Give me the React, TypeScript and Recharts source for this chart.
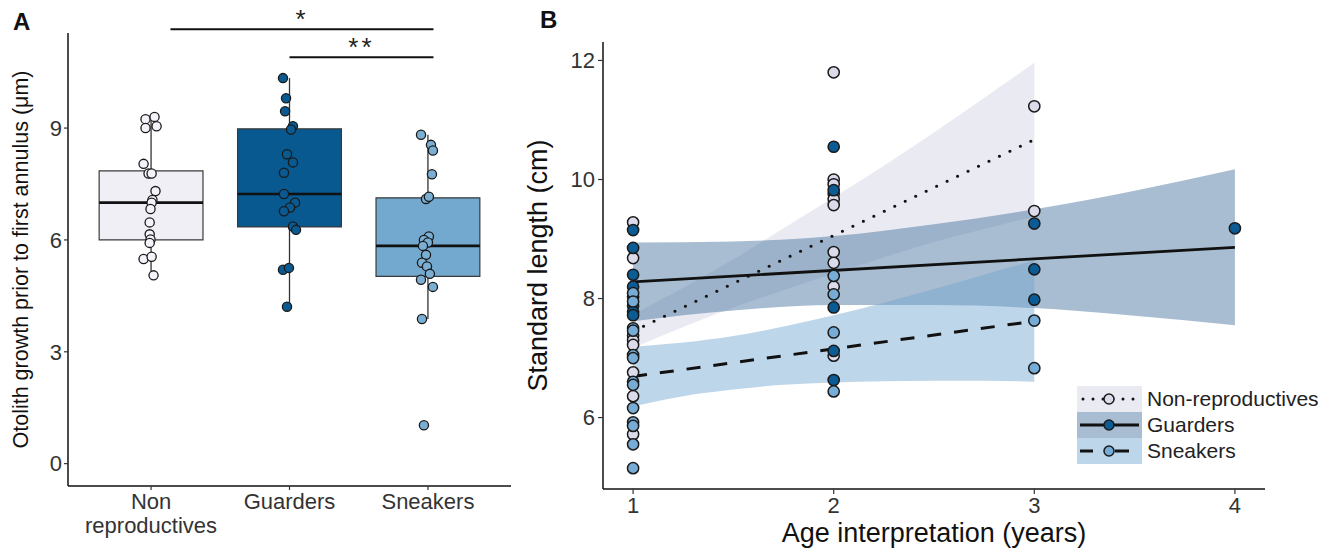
import React from 'react';
import {
  ComposedChart,
  Scatter,
  XAxis,
  YAxis,
  ReferenceArea,
  ReferenceLine,
  Line,
  Area,
  Label,
} from 'recharts';

const FONT = '"Liberation Sans", Arial, Helvetica, sans-serif';

// ---------------- Panel A data ----------------
const groupsA = ['Non\nreproductives', 'Guarders', 'Sneakers'];
const boxMin = [5.05, 4.21, 3.88];
const boxQ1 = [6.0, 6.35, 5.02];
const boxMed = [7.0, 7.23, 5.84];
const boxQ3 = [7.85, 8.98, 7.13];
const boxMax = [9.3, 10.34, 8.82];

const nonGrowth = [9.24, 9.3, 9.0, 9.05, 8.04, 7.78, 7.78, 7.31, 7.07, 7.0, 6.83, 6.47, 6.15, 6.01, 5.92, 5.49, 5.55, 5.05];
const nonJitter = [-0.04, 0.025, -0.04, 0.04, -0.054, -0.018, 0.004, 0.032, 0.01, 0.004, -0.004, -0.01, -0.01, -0.004, -0.01, -0.054, 0.004, 0.018];
const guardGrowth = [10.34, 9.8, 9.45, 9.05, 8.96, 8.3, 8.08, 7.8, 7.23, 7.0, 6.87, 6.77, 6.36, 6.27, 5.2, 5.25, 4.21];
const guardJitter = [-0.047, -0.025, -0.032, 0.025, 0.011, -0.018, 0.025, -0.04, -0.04, 0.04, 0.004, -0.04, 0.025, 0.047, -0.047, -0.004, -0.018];
const sneakGrowth = [8.82, 8.55, 8.4, 7.76, 7.1, 7.16, 6.09, 6.0, 5.93, 5.84, 5.6, 5.39, 5.29, 5.09, 4.93, 4.74, 3.88, 1.03];
const sneakJitter = [-0.05, 0.022, 0.036, 0.029, -0.014, 0.007, 0.007, -0.029, 0.0, -0.036, -0.014, -0.043, -0.007, 0.014, -0.05, 0.036, -0.043, -0.029];

const sigStarts = [1.14, 2.0];
const sigEnds = [3.04, 3.04];
const sigHeights = [11.65, 10.9];
const sigLabels = ['*', '**'];

// ---------------- Panel B data ----------------
const ageTicks = [1, 2, 3, 4];
const lengthTicks = [6, 8, 10, 12];

const nonAge = [1, 1, 1, 1, 1, 1, 1, 1, 2, 2, 2, 2, 2, 2, 2, 2, 2, 2, 3, 3];
const nonLen = [9.28, 8.68, 7.38, 7.3, 7.22, 6.76, 6.36, 5.72, 11.8, 10.0, 9.92, 9.76, 9.67, 9.57, 8.78, 8.6, 8.2, 7.04, 11.23, 9.47];
const guardAge = [1, 1, 1, 1, 1, 1, 1, 1, 2, 2, 2, 2, 2, 3, 3, 3, 4];
const guardLen = [9.15, 8.85, 8.4, 8.2, 8.03, 7.88, 7.78, 7.72, 10.55, 9.82, 7.85, 7.12, 6.63, 9.26, 8.49, 7.98, 9.18];
const sneakAge = [1, 1, 1, 1, 1, 1, 1, 1, 1, 1, 1, 1, 1, 2, 2, 2, 2, 3, 3];
const sneakLen = [8.09, 7.95, 7.5, 7.46, 7.05, 7.0, 6.6, 6.55, 6.16, 5.92, 5.86, 5.55, 5.15, 8.38, 8.07, 7.43, 6.44, 7.63, 6.83];

const nonFitX = [1, 3];
const nonFitY = [7.45, 10.67];
const guardFitX = [1, 4];
const guardFitY = [8.28, 8.86];
const sneakFitX = [1, 3];
const sneakFitY = [6.69, 7.62];

const nonBandX = [1, 1.25, 1.5, 1.75, 2, 2.25, 2.5, 2.75, 3];
const nonBandLo = [7.17, 7.52, 7.85, 8.14, 8.42, 8.69, 8.95, 9.17, 9.38];
const nonBandHi = [7.73, 8.18, 8.66, 9.18, 9.7, 10.23, 10.79, 11.37, 11.96];
const guardBandX = [1, 1.5, 2, 2.5, 3, 3.5, 4];
const guardBandLo = [7.62, 7.8, 7.89, 7.89, 7.84, 7.71, 7.55];
const guardBandHi = [8.94, 8.96, 9.05, 9.25, 9.5, 9.81, 10.17];
const sneakBandX = [1, 1.25, 1.5, 1.75, 2, 2.25, 2.5, 2.75, 3];
const sneakBandLo = [6.19, 6.36, 6.47, 6.55, 6.59, 6.61, 6.62, 6.62, 6.6];
const sneakBandHi = [7.19, 7.26, 7.37, 7.53, 7.72, 7.93, 8.16, 8.4, 8.64];

const legendNames = ['Non-reproductives', 'Guarders', 'Sneakers'];

// ---------------- styles ----------------
const BOX_HALF = 0.375;
const boxFill = ['#f1eff6', '#07598f', '#74a9cf'];
const ptFillA = ['#f5f3f9', '#0a5a91', '#7aaed3'];
const ptFillB = ['#dcdbeb', '#0b5b95', '#76acd6'];
const bandFill = ['#cfd0e3', '#4a76a0', '#6fa3cf'];
const bandOpacity = [0.45, 0.48, 0.45];
const tickStyle = { fontSize: 22, fill: '#333', fontFamily: FONT };
const axisLineStyle = { stroke: '#111', strokeWidth: 1.5 };
const tickLineStyle = { stroke: '#333', strokeWidth: 1.2 };

const toPoints = (xs: number[], ys: number[]) => xs.map((x, i) => ({ x, y: ys[i] }));
const toJittered = (center: number, jit: number[], ys: number[]) =>
  ys.map((y, i) => ({ x: center + jit[i], y }));
const toBand = (xs: number[], lo: number[], hi: number[]) =>
  xs.map((x, i) => ({ x, range: [lo[i], hi[i]] }));

const dotShape = (fill: string, r: number, sw: number) => (props: any) => (
  <circle cx={props.cx} cy={props.cy} r={r} fill={fill} stroke="#1a1a1a" strokeWidth={sw} />
);

const CatTick = (props: any) => {
  const { x, y, payload } = props;
  const label = groupsA[Math.round(payload.value) - 1] || '';
  const lines = label.split('\n');
  return (
    <text x={x} y={y} textAnchor="middle" fill="#333" fontSize={22} fontFamily={FONT}>
      {lines.map((l, i) => (
        <tspan key={i} x={x} dy={i === 0 ? '0.71em' : '1.1em'}>
          {l}
        </tspan>
      ))}
    </text>
  );
};

const rotTitle = (text: string, fromLeft: number, fontSize: number) => (props: any) => {
  const vb = props.viewBox || {};
  const cx = (vb.x || 0) + fromLeft;
  const cy = (vb.y || 0) + (vb.height || 0) / 2;
  return (
    <text
      x={cx}
      y={cy}
      dy="0.36em"
      transform={`rotate(-90 ${cx} ${cy})`}
      textAnchor="middle"
      fontSize={fontSize}
      fontFamily={FONT}
      fill="#111"
    >
      {text}
    </text>
  );
};

const bottomTitle = (text: string, below: number, fontSize: number) => (props: any) => {
  const vb = props.viewBox || {};
  const cx = (vb.x || 0) + (vb.width || 0) / 2;
  const cy = (vb.y || 0) + below;
  return (
    <text x={cx} y={cy} textAnchor="middle" fontSize={fontSize} fontFamily={FONT} fill="#111">
      {text}
    </text>
  );
};

const PanelA = () => (
  <ComposedChart width={530} height={550} margin={{ top: 33, right: 19, left: 0, bottom: 0 }}>
    <XAxis
      type="number"
      dataKey="x"
      domain={[0.4, 3.6]}
      ticks={[1, 2, 3]}
      interval={0}
      tick={CatTick}
      tickSize={4}
      tickMargin={3}
      height={64}
      axisLine={axisLineStyle}
      tickLine={tickLineStyle}
    />
    <YAxis
      type="number"
      dataKey="y"
      domain={[-0.6, 11.55]}
      ticks={[0, 3, 6, 9]}
      interval={0}
      width={68}
      tickSize={4}
      tickMargin={2}
      tick={tickStyle}
      axisLine={axisLineStyle}
      tickLine={tickLineStyle}
    >
      <Label content={rotTitle('Otolith growth prior to first annulus (\u03bcm)', 20.5, 21.5)} />
    </YAxis>
    {groupsA.map((g, i) => (
      <ReferenceLine
        key={'wu' + i}
        segment={[{ x: i + 1, y: boxQ3[i] }, { x: i + 1, y: boxMax[i] }]}
        stroke="#333"
        strokeWidth={1.3}
      />
    ))}
    {groupsA.map((g, i) => (
      <ReferenceLine
        key={'wl' + i}
        segment={[{ x: i + 1, y: boxMin[i] }, { x: i + 1, y: boxQ1[i] }]}
        stroke="#333"
        strokeWidth={1.3}
      />
    ))}
    {groupsA.map((g, i) => (
      <ReferenceArea
        key={'box' + i}
        x1={i + 1 - BOX_HALF}
        x2={i + 1 + BOX_HALF}
        y1={boxQ1[i]}
        y2={boxQ3[i]}
        fill={boxFill[i]}
        fillOpacity={1}
        stroke="#3a3a3a"
        strokeWidth={1.2}
      />
    ))}
    {groupsA.map((g, i) => (
      <ReferenceLine
        key={'med' + i}
        segment={[{ x: i + 1 - BOX_HALF, y: boxMed[i] }, { x: i + 1 + BOX_HALF, y: boxMed[i] }]}
        stroke="#111"
        strokeWidth={2.6}
      />
    ))}
    {sigLabels.map((s, i) => (
      <ReferenceLine
        key={'sig' + i}
        segment={[{ x: sigStarts[i], y: sigHeights[i] }, { x: sigEnds[i], y: sigHeights[i] }]}
        stroke="#111"
        strokeWidth={2}
        ifOverflow="visible"
        label={{ value: s, position: 'top', offset: 1, fontSize: 26, fill: '#222', fontFamily: FONT, letterSpacing: 3 }}
      />
    ))}
    <Scatter data={toJittered(1, nonJitter, nonGrowth)} shape={dotShape(ptFillA[0], 4.6, 1.3)} isAnimationActive={false} />
    <Scatter data={toJittered(2, guardJitter, guardGrowth)} shape={dotShape(ptFillA[1], 4.6, 1.3)} isAnimationActive={false} />
    <Scatter data={toJittered(3, sneakJitter, sneakGrowth)} shape={dotShape(ptFillA[2], 4.6, 1.3)} isAnimationActive={false} />
  </ComposedChart>
);

const PanelB = () => (
  <ComposedChart width={812} height={550} margin={{ top: 42, right: 67, left: 0, bottom: 0 }}>
    <XAxis
      type="number"
      dataKey="x"
      domain={[0.85, 4.15]}
      ticks={ageTicks}
      interval={0}
      tickSize={5}
      tickMargin={3}
      height={61}
      tick={tickStyle}
      axisLine={axisLineStyle}
      tickLine={tickLineStyle}
    >
      <Label content={bottomTitle('Age interpretation (years)', 53, 27)} />
    </XAxis>
    <YAxis
      type="number"
      dataKey="y"
      domain={[4.8, 12.31]}
      ticks={lengthTicks}
      interval={0}
      width={83}
      tickSize={5}
      tickMargin={3}
      tick={tickStyle}
      axisLine={axisLineStyle}
      tickLine={tickLineStyle}
    >
      <Label content={rotTitle('Standard length (cm)', 17.6, 27)} />
    </YAxis>
    <Area
      data={toBand(nonBandX, nonBandLo, nonBandHi)}
      dataKey="range"
      type="monotone"
      fill={bandFill[0]}
      fillOpacity={bandOpacity[0]}
      stroke="none"
      isAnimationActive={false}
    />
    <Area
      data={toBand(guardBandX, guardBandLo, guardBandHi)}
      dataKey="range"
      type="monotone"
      fill={bandFill[1]}
      fillOpacity={bandOpacity[1]}
      stroke="none"
      isAnimationActive={false}
    />
    <Area
      data={toBand(sneakBandX, sneakBandLo, sneakBandHi)}
      dataKey="range"
      type="monotone"
      fill={bandFill[2]}
      fillOpacity={bandOpacity[2]}
      stroke="none"
      isAnimationActive={false}
    />
    <Line
      data={toPoints(nonFitX, nonFitY)}
      dataKey="y"
      stroke="#111"
      strokeWidth={3.2}
      strokeDasharray="0 11.6"
      strokeLinecap="round"
      dot={false}
      activeDot={false}
      isAnimationActive={false}
    />
    <Line
      data={toPoints(guardFitX, guardFitY)}
      dataKey="y"
      stroke="#111"
      strokeWidth={2.8}
      dot={false}
      activeDot={false}
      isAnimationActive={false}
    />
    <Line
      data={toPoints(sneakFitX, sneakFitY)}
      dataKey="y"
      stroke="#111"
      strokeWidth={3}
      strokeDasharray="14 13"
      dot={false}
      activeDot={false}
      isAnimationActive={false}
    />
    <Scatter data={toPoints(nonAge, nonLen)} shape={dotShape(ptFillB[0], 5.6, 1.5)} isAnimationActive={false} />
    <Scatter data={toPoints(guardAge, guardLen)} shape={dotShape(ptFillB[1], 5.6, 1.5)} isAnimationActive={false} />
    <Scatter data={toPoints(sneakAge, sneakLen)} shape={dotShape(ptFillB[2], 5.6, 1.5)} isAnimationActive={false} />
  </ComposedChart>
);

const LegendKey = ({ idx }: { idx: number }) => {
  const y = 13;
  return (
    <svg width={65} height={26} style={{ display: 'block' }}>
      <rect x={0} y={0} width={65} height={26} fill={bandFill[idx]} fillOpacity={bandOpacity[idx]} />
      {idx === 0 && (
        <line x1={6} y1={y} x2={60} y2={y} stroke="#111" strokeWidth={3} strokeDasharray="0 10" strokeLinecap="round" />
      )}
      {idx === 1 && <line x1={3} y1={y} x2={62} y2={y} stroke="#111" strokeWidth={2.8} />}
      {idx === 2 && (
        <g>
          <line x1={3} y1={y} x2={16} y2={y} stroke="#111" strokeWidth={3} />
          <line x1={38} y1={y} x2={52} y2={y} stroke="#111" strokeWidth={3} />
        </g>
      )}
      <circle cx={32} cy={y} r={5} fill={ptFillB[idx]} stroke="#1a1a1a" strokeWidth={1.5} />
    </svg>
  );
};

export default function App() {
  return (
    <div style={{ position: 'absolute', left: 0, top: 0, width: 1332, height: 550, background: '#fff', fontFamily: FONT }}>
      <div style={{ position: 'absolute', left: 0, top: 0 }}>
        <PanelA />
      </div>
      <div style={{ position: 'absolute', left: 520, top: 0 }}>
        <PanelB />
      </div>
      <div style={{ position: 'absolute', left: 13, top: 10, fontSize: 24, lineHeight: '24px', fontWeight: 700, color: '#111' }}>A</div>
      <div style={{ position: 'absolute', left: 540, top: 8, fontSize: 24, lineHeight: '24px', fontWeight: 700, color: '#111' }}>B</div>
      <div style={{ position: 'absolute', left: 1077, top: 386 }}>
        {legendNames.map((n, i) => (
          <div key={n} style={{ display: 'flex', alignItems: 'center', height: 26 }}>
            <LegendKey idx={i} />
            <span style={{ marginLeft: 5, fontSize: 21, color: '#222', whiteSpace: 'nowrap' }}>{n}</span>
          </div>
        ))}
      </div>
    </div>
  );
}
